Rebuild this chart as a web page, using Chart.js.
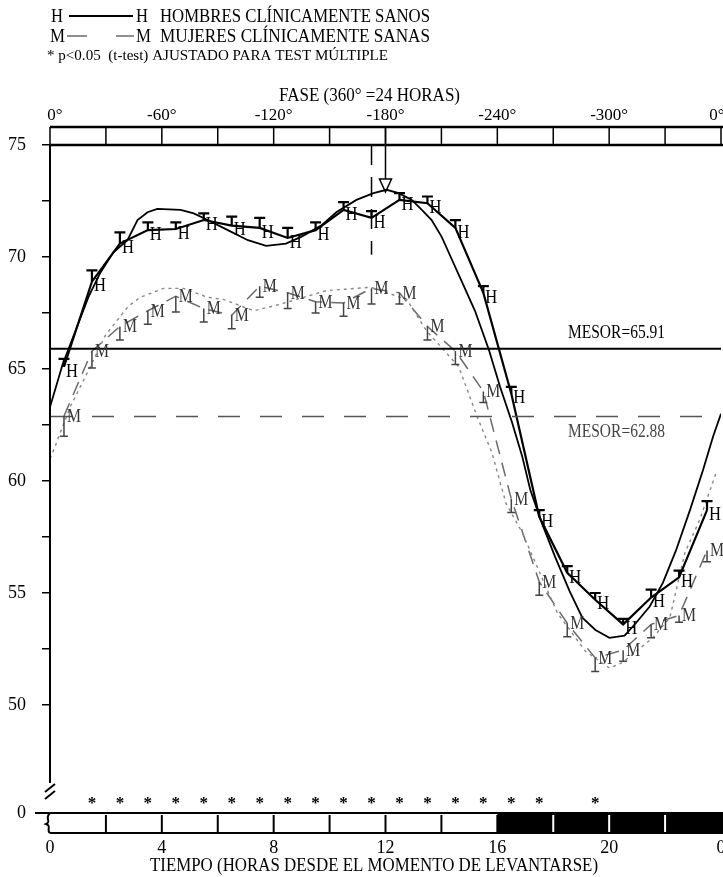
<!DOCTYPE html>
<html>
<head>
<meta charset="utf-8">
<script src="https://cdn.jsdelivr.net/npm/chart.js@4.4.1/dist/chart.umd.min.js"></script>
<style>
  html, body { margin: 0; padding: 0; background: #fff; }
  #wrap { width: 723px; height: 877px; }
</style>
</head>
<body>
<div id="wrap"><canvas id="chart" width="723" height="877"></canvas></div>
<script>
// horas medias de cada intervalo (horas desde levantarse)
const horas = [0.5, 1.5, 2.5, 3.5, 4.5, 5.5, 6.5, 7.5, 8.5, 9.5, 10.5, 11.5,
               12.5, 13.5, 14.5, 15.5, 16.5, 17.5, 18.5, 19.5, 20.5, 21.5, 22.5, 23.5];

// hombres: medias horarias (H) y error
const hombresMedia = [65.1, 68.9, 70.6, 71.2, 71.25, 71.65, 71.4, 71.3, 70.85, 71.2, 72.1, 71.75,
                      72.55, 72.4, 71.3, 68.4, 63.9, 58.4, 55.9, 54.7, 53.6, 54.8, 55.7, 58.7];
const hombresErr   = [0.35, 0.5, 0.5, 0.35, 0.3, 0.3, 0.4, 0.45, 0.45, 0.35, 0.35, 0.3,
                      0.3, 0.3, 0.35, 0.3, 0.3, 0.3, 0.3, 0.3, 0.25, 0.35, 0.3, 0.4];

// mujeres: medias horarias (M) y error
const mujeresMedia = [62.9, 65.8, 66.9, 67.6, 68.25, 67.7, 67.4, 68.7, 68.4, 68.0, 67.95, 68.6,
                      68.4, 66.9, 65.8, 64.0, 59.2, 55.5, 53.65, 52.1, 52.45, 53.6, 54.0, 56.9];
const mujeresErr   = [0.9, 0.75, 0.6, 0.6, 0.7, 0.6, 0.6, 0.5, 0.7, 0.5, 0.6, 0.7,
                      0.5, 0.6, 0.6, 0.5, 0.6, 0.6, 0.6, 0.6, 0.5, 0.6, 0.3, 0.5];

// curva continua de hombres
const hombresCurvaHoras = [0, 0.45, 0.97, 1.37, 1.8, 2.26, 2.77, 3.13, 3.49, 3.84, 4.67, 5.14,
                           5.64, 6.36, 7.08, 7.73, 8.44, 8.98, 9.7, 10.24, 10.96, 11.57, 12.04, 12.47,
                           12.94, 13.3, 13.65, 14.01, 14.37, 14.73, 15.2, 15.7, 16.1, 16.53, 16.89, 17.18,
                           17.6, 18.07, 18.58, 19.04, 19.51, 20.01, 20.55, 20.95, 21.45, 21.92, 22.39, 22.89,
                           23.36, 23.72, 24];
const hombresCurva      = [63.3, 65.2, 66.9, 68.2, 69.3, 70.2, 70.75, 71.65, 72.0, 72.15, 72.1, 71.95,
                           71.65, 71.2, 70.75, 70.5, 70.6, 70.9, 71.4, 72.0, 72.55, 72.85, 73.0, 72.85,
                           72.55, 72.1, 71.65, 70.9, 69.9, 68.9, 67.6, 65.85, 64.2, 62.6, 61.1, 59.6,
                           58.1, 56.6, 55.1, 53.9, 53.35, 53.0, 53.1, 53.65, 54.4, 55.45, 56.9, 58.7,
                           60.5, 62.0, 63.0];

// curva continua de mujeres
const mujeresCurvaHoras = [0, 0.2, 0.72, 1.44, 1.98, 2.8, 3.23, 4.06, 4.78, 5.64, 6.22, 7.29,
                           8.26, 9.88, 11.5, 12.76, 13.47, 14.62, 15.27, 15.81, 16.31, 16.89, 18.15, 19.15,
                           20.01, 20.48, 21.56, 22.17, 22.71, 23.25, 23.82];
const mujeresCurva      = [61.0, 61.6, 63.3, 65.1, 66.5, 67.8, 68.2, 68.6, 68.6, 68.2, 68.1, 67.6,
                           67.9, 68.5, 68.65, 68.1, 66.7, 65.1, 62.9, 61.25, 59.0, 57.7, 54.1, 52.4,
                           51.65, 51.9, 53.0, 53.9, 56.8, 58.3, 60.35];

const mesorH = 65.91;
const mesorM = 62.88;

// * p<0.05
const sigHoras = [1.5, 2.5, 3.5, 4.5, 5.5, 6.5, 7.5, 8.5, 9.5, 10.5, 11.5, 12.5, 13.5, 14.5, 15.5, 16.5, 17.5, 19.5];

const acrofase = 12;          // flecha
const acrofasePunta = 72.9;
const lineaVertHora = 11.5;   // linea discontinua
const lineaVertFin = 70.1;

const yCero = 45.18;          // donde se dibuja el "0" tras el corte del eje
const yTicks = [50, 52.5, 55, 57.5, 60, 62.5, 65, 67.5, 70, 72.5, 75];
const xTicks = [0, 4, 8, 12, 16, 20, 24];
const xTickLabels = ['0', '4', '8', '12', '16', '20', '0'];
const faseLabels = ['0°', '-60°', '-120°', '-180°', '-240°', '-300°', '0°'];
const divisiones = [0, 2, 4, 6, 8, 10, 12, 14, 16, 18, 20, 22, 24];
const nocheInicio = 16;

const SERIF = '"Liberation Serif", "Times New Roman", serif';
const GRIS = '#6a6a6a';

function fitText(ctx, txt, x, y, w) {
    const m = ctx.measureText(txt).width;
    ctx.save();
    ctx.translate(x, y);
    ctx.scale(w / m, 1);
    ctx.textAlign = 'left';
    ctx.fillText(txt, 0, 0);
    ctx.restore();
}

function pts(xsArr, ysArr) {
    return xsArr.map((x, i) => ({ x: x, y: ysArr[i] }));
}

const decor = {
    id: 'decor',
    afterDraw(chart) {
        const ctx = chart.ctx;
        const xs = chart.scales.x, ys = chart.scales.y;
        const X = v => xs.getPixelForValue(v);
        const Y = v => ys.getPixelForValue(v);
        const top = Y(75), zero = Y(yCero);
        const W = chart.width;

        ctx.save();
        ctx.fillStyle = '#000';
        ctx.strokeStyle = '#000';
        ctx.textBaseline = 'middle';

        // leyenda
        ctx.font = '18px ' + SERIF;
        fitText(ctx, 'H', 51, 17, 12);
        fitText(ctx, 'H', 136, 17, 12);
        fitText(ctx, 'HOMBRES CLÍNICAMENTE SANOS', 160, 17, 270);
        ctx.lineWidth = 2;
        ctx.beginPath(); ctx.moveTo(69, 16); ctx.lineTo(133, 16); ctx.stroke();
        fitText(ctx, 'M', 50, 37, 15);
        fitText(ctx, 'M', 136, 37, 15);
        fitText(ctx, 'MUJERES CLÍNICAMENTE SANAS', 160, 37, 270);
        ctx.strokeStyle = GRIS; ctx.lineWidth = 1.5;
        ctx.beginPath(); ctx.moveTo(67, 36); ctx.lineTo(87, 36); ctx.moveTo(116, 36); ctx.lineTo(134, 36); ctx.stroke();
        ctx.font = '15px ' + SERIF;
        fitText(ctx, '* p<0.05  (t-test) AJUSTADO PARA TEST MÚLTIPLE', 47, 56, 341);

        // titulo de fase
        ctx.font = '19px ' + SERIF;
        fitText(ctx, 'FASE (360° =24 HORAS)', 279, 96, 181);
        ctx.font = '17px ' + SERIF;
        ctx.textAlign = 'center';
        xTicks.forEach((h, i) => {
            const px = Math.min(Math.max(X(h), 55), W - 6);
            ctx.fillText(faseLabels[i], px, 116);
        });

        // barra de fase
        ctx.strokeStyle = '#000';
        ctx.lineWidth = 2.5;
        const barTop = 127;
        ctx.beginPath();
        ctx.moveTo(X(0), barTop); ctx.lineTo(W, barTop);
        ctx.moveTo(X(0), top); ctx.lineTo(W, top);
        ctx.stroke();
        ctx.lineWidth = 1.5;
        ctx.beginPath();
        divisiones.forEach(h => {
            const px = Math.min(X(h), W - 2);
            ctx.moveTo(px, barTop); ctx.lineTo(px, top);
        });
        ctx.stroke();

        // eje y con corte
        ctx.lineWidth = 2;
        ctx.beginPath();
        ctx.moveTo(X(0), top); ctx.lineTo(X(0), zero - 30);
        ctx.moveTo(X(0) - 5, zero - 21); ctx.lineTo(X(0) + 5, zero - 29);
        ctx.moveTo(X(0) - 5, zero - 14); ctx.lineTo(X(0) + 5, zero - 22);
        ctx.stroke();

        // barra de tiempo (dia / noche)
        const bTop = zero, bBot = zero + 20;
        ctx.fillStyle = '#000';
        ctx.fillRect(X(nocheInicio), bTop, W - X(nocheInicio), bBot - bTop);
        ctx.lineWidth = 2;
        ctx.beginPath();
        ctx.moveTo(35, bTop); ctx.lineTo(W, bTop);
        ctx.moveTo(X(0), bBot); ctx.lineTo(W, bBot);
        ctx.stroke();
        ctx.beginPath();
        ctx.moveTo(X(0), bTop);
        ctx.bezierCurveTo(X(0) - 6, bTop + 6, X(0) + 2, bTop + 8, X(0) - 4, bTop + 11);
        ctx.bezierCurveTo(X(0) + 2, bTop + 13, X(0) - 4, bTop + 17, X(0), bBot);
        ctx.stroke();
        divisiones.forEach(h => {
            if (h === 0 || h === 24) return;
            ctx.strokeStyle = h > nocheInicio ? '#fff' : '#000';
            ctx.beginPath();
            ctx.moveTo(X(h), bTop + 2); ctx.lineTo(X(h), bBot - 1);
            ctx.stroke();
        });

        // asteriscos
        ctx.fillStyle = '#000';
        ctx.font = 'bold 17px ' + SERIF;
        ctx.textAlign = 'center';
        sigHoras.forEach(h => ctx.fillText('*', X(h), zero - 9));

        // titulo eje x
        ctx.font = '19px ' + SERIF;
        fitText(ctx, 'TIEMPO (HORAS DESDE EL MOMENTO DE LEVANTARSE)', 150, 866, 448);

        // linea vertical discontinua y flecha de acrofase
        ctx.strokeStyle = '#000';
        ctx.lineWidth = 1.5;
        ctx.setLineDash([20, 12]);
        ctx.beginPath();
        ctx.moveTo(X(lineaVertHora), top); ctx.lineTo(X(lineaVertHora), Y(lineaVertFin));
        ctx.stroke();
        ctx.setLineDash([]);
        const ax = X(acrofase), tip = Y(acrofasePunta);
        ctx.beginPath();
        ctx.moveTo(ax, barTop); ctx.lineTo(ax, tip - 13);
        ctx.moveTo(ax - 6, tip - 13); ctx.lineTo(ax + 6, tip - 13); ctx.lineTo(ax, tip); ctx.closePath();
        ctx.stroke();

        // barras de error y marcas H
        ctx.lineWidth = 2.2;
        ctx.strokeStyle = '#000';
        ctx.fillStyle = '#000';
        ctx.font = '18px ' + SERIF;
        horas.forEach((h, i) => {
            const px = X(h), py = Y(hombresMedia[i]), pe = Y(hombresMedia[i] + hombresErr[i]);
            ctx.beginPath();
            ctx.moveTo(px, py); ctx.lineTo(px, pe);
            ctx.moveTo(px - 5.5, pe); ctx.lineTo(px + 5.5, pe);
            ctx.stroke();
            fitText(ctx, 'H', px + 2, py + 5, 12);
        });

        // barras de error y marcas M
        ctx.lineWidth = 1.5;
        ctx.strokeStyle = '#444';
        ctx.fillStyle = '#333';
        horas.forEach((h, i) => {
            const px = X(h), py = Y(mujeresMedia[i]), pe = Y(mujeresMedia[i] - mujeresErr[i]);
            ctx.beginPath();
            ctx.moveTo(px, py); ctx.lineTo(px, pe);
            ctx.moveTo(px - 4, pe); ctx.lineTo(px + 4, pe);
            ctx.stroke();
            fitText(ctx, 'M', px + 3, py + 1, 14);
        });

        // etiquetas MESOR
        ctx.font = '19px ' + SERIF;
        ctx.fillStyle = '#000';
        fitText(ctx, 'MESOR=65.91', 568, Y(mesorH) - 16, 97);
        ctx.fillStyle = '#444';
        fitText(ctx, 'MESOR=62.88', 568, Y(mesorM) + 16, 97);

        ctx.restore();
    }
};

new Chart(document.getElementById('chart'), {
    type: 'line',
    data: {
        datasets: [
            {
                label: 'MESOR H',
                data: pts([0, 24], [mesorH, mesorH]),
                borderColor: '#000', borderWidth: 2, pointRadius: 0
            },
            {
                label: 'MESOR M',
                data: pts([0, 24], [mesorM, mesorM]),
                borderColor: '#555', borderWidth: 1.5, borderDash: [22, 20], pointRadius: 0
            },
            {
                label: 'Hombres curva',
                data: pts(hombresCurvaHoras, hombresCurva),
                borderColor: '#000', borderWidth: 1.8, pointRadius: 0, tension: 0
            },
            {
                label: 'Hombres',
                data: pts(horas, hombresMedia),
                borderColor: '#000', borderWidth: 2.2, pointRadius: 0, tension: 0
            },
            {
                label: 'Mujeres curva',
                data: pts(mujeresCurvaHoras, mujeresCurva),
                borderColor: '#888', borderWidth: 1.4, borderDash: [3, 4], pointRadius: 0, tension: 0
            },
            {
                label: 'Mujeres',
                data: pts(horas, mujeresMedia),
                borderColor: GRIS, borderWidth: 1.5, borderDash: [14, 9], pointRadius: 0, tension: 0
            }
        ]
    },
    options: {
        responsive: false,
        animation: false,
        devicePixelRatio: 1,
        layout: { padding: { left: 0, right: 2, top: 145, bottom: 0 } },
        plugins: { legend: { display: false }, tooltip: { enabled: false } },
        scales: {
            x: {
                type: 'linear',
                min: 0, max: 24,
                border: { display: false },
                grid: { display: false, drawTicks: false },
                afterBuildTicks: s => { s.ticks = xTicks.map(v => ({ value: v })); },
                afterFit: s => { s.height = 64; s.paddingLeft = 0; s.paddingRight = 0; },
                ticks: {
                    padding: 24,
                    color: '#000',
                    maxRotation: 0,
                    autoSkip: false,
                    font: { family: SERIF, size: 18 },
                    callback: v => xTickLabels[xTicks.indexOf(v)]
                }
            },
            y: {
                type: 'linear',
                min: yCero, max: 75,
                border: { display: false },
                grid: {
                    drawOnChartArea: false,
                    drawTicks: true,
                    tickLength: 8,
                    lineWidth: 1.5,
                    tickColor: c => (c.tick && c.tick.value < 46) ? 'rgba(0,0,0,0)' : '#000'
                },
                afterBuildTicks: s => { s.ticks = [yCero].concat(yTicks).map(v => ({ value: v })); },
                afterFit: s => { s.width = 50; s.paddingTop = 0; s.paddingBottom = 0; },
                ticks: {
                    padding: 16,
                    color: '#000',
                    autoSkip: false,
                    font: { family: SERIF, size: 18 },
                    callback: v => v < 46 ? '0' : (v % 5 === 0 ? String(v) : '')
                }
            }
        }
    },
    plugins: [decor]
});
</script>
</body>
</html>
